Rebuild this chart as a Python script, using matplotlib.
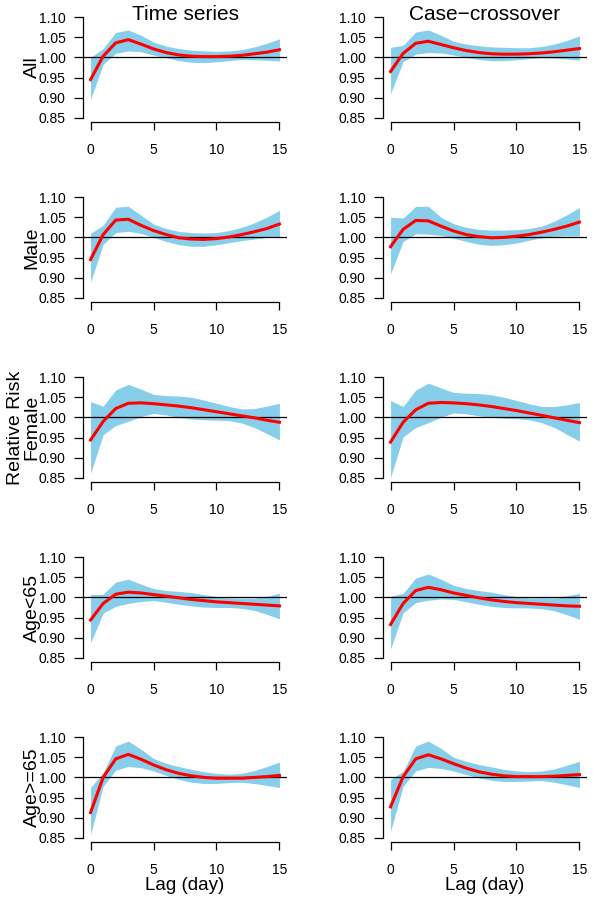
import matplotlib
matplotlib.use("Agg")
from matplotlib import pyplot as plt

lag = list(range(16))

# Time series estimates (relative risk, lower, upper)
ts_all_rr = [0.945, 1.003, 1.036, 1.044, 1.033, 1.021, 1.012, 1.006, 1.003, 1.002, 1.002, 1.003, 1.005, 1.009, 1.013, 1.019]
ts_all_lo = [0.896, 0.983, 1.010, 1.016, 1.014, 1.006, 0.999, 0.992, 0.988, 0.987, 0.989, 0.992, 0.995, 0.994, 0.993, 0.991]
ts_all_hi = [1.000, 1.022, 1.062, 1.068, 1.055, 1.038, 1.028, 1.022, 1.018, 1.016, 1.015, 1.016, 1.019, 1.026, 1.035, 1.046]

ts_male_rr = [0.945, 1.007, 1.043, 1.045, 1.030, 1.017, 1.007, 0.999, 0.996, 0.995, 0.997, 1.001, 1.007, 1.014, 1.022, 1.033]
ts_male_lo = [0.889, 0.983, 1.012, 1.015, 1.010, 1.000, 0.990, 0.982, 0.978, 0.978, 0.982, 0.987, 0.992, 0.996, 1.000, 1.002]
ts_male_hi = [1.010, 1.030, 1.075, 1.077, 1.055, 1.033, 1.022, 1.015, 1.012, 1.011, 1.012, 1.017, 1.025, 1.036, 1.050, 1.067]

ts_female_rr = [0.944, 0.990, 1.022, 1.035, 1.036, 1.034, 1.031, 1.028, 1.024, 1.019, 1.014, 1.009, 1.004, 0.999, 0.993, 0.988]
ts_female_lo = [0.861, 0.957, 0.980, 0.990, 1.002, 1.010, 1.006, 1.000, 0.996, 0.994, 0.993, 0.992, 0.986, 0.975, 0.960, 0.944]
ts_female_hi = [1.039, 1.028, 1.068, 1.082, 1.070, 1.057, 1.054, 1.053, 1.050, 1.043, 1.035, 1.027, 1.021, 1.022, 1.028, 1.035]

ts_young_rr = [0.944, 0.985, 1.008, 1.013, 1.011, 1.007, 1.003, 0.999, 0.995, 0.992, 0.989, 0.987, 0.985, 0.983, 0.981, 0.979]
ts_young_lo = [0.887, 0.961, 0.978, 0.985, 0.990, 0.992, 0.988, 0.983, 0.979, 0.976, 0.975, 0.975, 0.973, 0.968, 0.958, 0.947]
ts_young_hi = [1.007, 1.008, 1.038, 1.045, 1.033, 1.022, 1.017, 1.015, 1.012, 1.007, 1.002, 0.999, 0.998, 0.998, 1.003, 1.010]

ts_old_rr = [0.913, 1.000, 1.046, 1.057, 1.045, 1.031, 1.019, 1.010, 1.004, 1.000, 0.998, 0.998, 0.998, 1.000, 1.002, 1.005]
ts_old_lo = [0.858, 0.978, 1.018, 1.027, 1.024, 1.016, 1.005, 0.995, 0.988, 0.985, 0.985, 0.987, 0.988, 0.985, 0.980, 0.975]
ts_old_hi = [0.975, 1.012, 1.078, 1.090, 1.070, 1.047, 1.035, 1.027, 1.020, 1.014, 1.010, 1.008, 1.010, 1.017, 1.027, 1.038]

# Case-crossover estimates
cc_all_rr = [0.965, 1.010, 1.035, 1.040, 1.032, 1.024, 1.017, 1.012, 1.009, 1.008, 1.008, 1.009, 1.011, 1.014, 1.018, 1.022]
cc_all_lo = [0.910, 0.990, 1.008, 1.012, 1.011, 1.006, 1.000, 0.995, 0.992, 0.992, 0.994, 0.997, 0.999, 0.998, 0.996, 0.993]
cc_all_hi = [1.025, 1.030, 1.063, 1.068, 1.055, 1.040, 1.033, 1.029, 1.026, 1.025, 1.024, 1.024, 1.027, 1.033, 1.042, 1.053]

cc_male_rr = [0.977, 1.020, 1.042, 1.041, 1.028, 1.016, 1.007, 1.002, 0.999, 1.000, 1.003, 1.007, 1.013, 1.020, 1.028, 1.038]
cc_male_lo = [0.910, 0.990, 1.009, 1.008, 1.005, 0.998, 0.990, 0.983, 0.980, 0.982, 0.986, 0.993, 0.999, 1.003, 1.004, 1.004]
cc_male_hi = [1.050, 1.048, 1.077, 1.077, 1.050, 1.034, 1.025, 1.020, 1.018, 1.018, 1.019, 1.022, 1.028, 1.040, 1.056, 1.074]

cc_female_rr = [0.939, 0.988, 1.019, 1.035, 1.037, 1.036, 1.034, 1.031, 1.027, 1.022, 1.017, 1.011, 1.005, 0.999, 0.993, 0.987]
cc_female_lo = [0.851, 0.952, 0.975, 0.987, 1.000, 1.011, 1.009, 1.004, 1.000, 0.998, 0.997, 0.994, 0.987, 0.975, 0.958, 0.941]
cc_female_hi = [1.042, 1.027, 1.068, 1.085, 1.073, 1.062, 1.060, 1.059, 1.056, 1.050, 1.042, 1.034, 1.027, 1.027, 1.031, 1.037]

cc_young_rr = [0.933, 0.985, 1.017, 1.025, 1.019, 1.011, 1.005, 0.999, 0.994, 0.990, 0.987, 0.985, 0.983, 0.981, 0.979, 0.978]
cc_young_lo = [0.872, 0.962, 0.987, 0.993, 0.996, 0.995, 0.989, 0.983, 0.978, 0.975, 0.974, 0.974, 0.972, 0.967, 0.957, 0.946]
cc_young_hi = [1.003, 1.010, 1.048, 1.058, 1.045, 1.030, 1.022, 1.017, 1.013, 1.007, 1.002, 0.999, 0.999, 0.999, 1.004, 1.010]

cc_old_rr = [0.927, 1.002, 1.046, 1.056, 1.046, 1.034, 1.023, 1.014, 1.008, 1.004, 1.002, 1.002, 1.002, 1.003, 1.005, 1.007]
cc_old_lo = [0.866, 0.978, 1.016, 1.025, 1.022, 1.016, 1.007, 0.999, 0.993, 0.990, 0.990, 0.991, 0.992, 0.988, 0.982, 0.975]
cc_old_hi = [0.995, 1.015, 1.078, 1.090, 1.072, 1.050, 1.040, 1.032, 1.026, 1.020, 1.016, 1.014, 1.016, 1.021, 1.030, 1.040]

row_labels = ["All", "Male", "Female", "Age<65", "Age>=65"]
col_titles = ["Time series", "Case\u2212crossover"]
y_ticks = [0.85, 0.90, 0.95, 1.00, 1.05, 1.10]
x_ticks = [0, 5, 10, 15]

panels = [
    [(ts_all_rr, ts_all_lo, ts_all_hi), (cc_all_rr, cc_all_lo, cc_all_hi)],
    [(ts_male_rr, ts_male_lo, ts_male_hi), (cc_male_rr, cc_male_lo, cc_male_hi)],
    [(ts_female_rr, ts_female_lo, ts_female_hi), (cc_female_rr, cc_female_lo, cc_female_hi)],
    [(ts_young_rr, ts_young_lo, ts_young_hi), (cc_young_rr, cc_young_lo, cc_young_hi)],
    [(ts_old_rr, ts_old_lo, ts_old_hi), (cc_old_rr, cc_old_lo, cc_old_hi)],
]

plt.rcParams["font.family"] = ["Liberation Sans", "DejaVu Sans"]

W, H = 600, 901
fig = plt.figure(figsize=(W / 100, H / 100), dpi=100)


def px(x, y):
    # pixel coords (from top-left) -> figure fraction
    return x / W, 1 - y / H


for r in range(5):
    for c in range(2):
        rr, lo, hi = panels[r][c]
        left, top = 83 + 300 * c, 13 + 180 * r
        right, bottom = 287 + 300 * c, 122 + 180 * r
        ax = fig.add_axes([left / W, 1 - bottom / H, (right - left) / W, (bottom - top) / H])
        ax.fill_between(lag, lo, hi, color="#87CEEB", linewidth=0)
        ax.axhline(1.0, color="black", lw=0.9)
        ax.plot(lag, rr, color="red", lw=2.2)
        ax.set_xlim(-0.6, 15.6)
        ax.set_ylim(0.84, 1.11)
        ax.set_xticks(x_ticks)
        ax.set_yticks(y_ticks)
        ax.set_yticklabels([f"{v:.2f}" for v in y_ticks])
        for s in ["top", "right"]:
            ax.spines[s].set_visible(False)
        ax.spines["left"].set_bounds(0.85, 1.10)
        ax.spines["bottom"].set_bounds(0, 15)
        ax.spines["left"].set_linewidth(0.9)
        ax.spines["bottom"].set_linewidth(0.9)
        ax.tick_params(axis="y", direction="out", length=6.5, width=0.9, pad=6, labelsize=10)
        ax.tick_params(axis="x", direction="out", length=6, width=0.9, pad=9, labelsize=10)
        ax.patch.set_visible(False)

        if r == 0:
            fig.text(*px((left + right) / 2, 20), col_titles[c], ha="center",
                     va="baseline", fontsize=15)
        if r == 4:
            fig.text(*px((left + right) / 2, 890), "Lag (day)", ha="center",
                     va="baseline", fontsize=13.5)
        if c == 0:
            ymid = 67.5 + 180 * r
            fig.text(*px(32, ymid), row_labels[r], rotation=90, ha="center",
                     va="center", fontsize=14)
            if r == 2:
                fig.text(*px(16, ymid), "Relative Risk", rotation=90,
                         ha="center", va="center", fontsize=14)

fig.savefig("out.png", dpi=100)
